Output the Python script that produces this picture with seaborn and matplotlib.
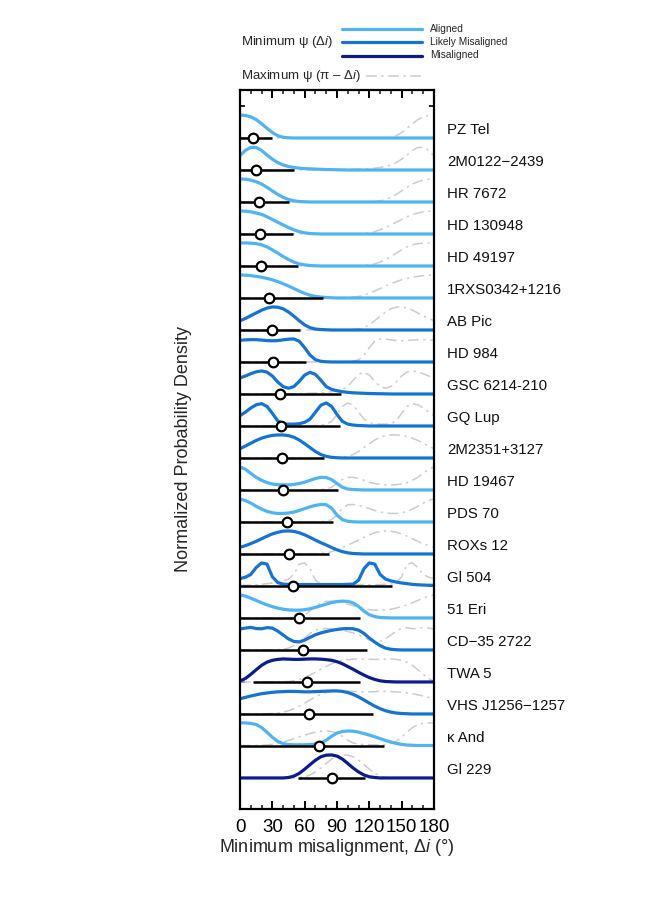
import numpy as np
import pandas as pd
import seaborn as sns
import matplotlib.pyplot as plt
from matplotlib.lines import Line2D
from matplotlib.transforms import blended_transform_factory

sns.set_theme(style="ticks")
plt.rcParams['font.family'] = ['Liberation Sans', 'DejaVu Sans']
plt.rcParams['mathtext.fontset'] = 'custom'
plt.rcParams['mathtext.rm'] = 'Liberation Sans'
plt.rcParams['mathtext.it'] = 'Liberation Sans:italic'

# grid of minimum misalignment (deg) the densities are read at
deg = list(range(0, 181, 5))

# objects, top to bottom
names = ["PZ Tel", "2M0122\u22122439", "HR 7672", "HD 130948", "HD 49197",
         "1RXS0342+1216", "AB Pic", "HD 984", "GSC 6214-210", "GQ Lup",
         "2M2351+3127", "HD 19467", "PDS 70", "ROXs 12", "Gl 504", "51 Eri",
         "CD\u221235 2722", "TWA 5", "VHS J1256\u22121257", "\u03ba And", "Gl 229"]
status = ["Aligned", "Aligned", "Aligned", "Aligned", "Aligned", "Aligned",
          "Likely Misaligned", "Likely Misaligned", "Likely Misaligned",
          "Likely Misaligned", "Likely Misaligned", "Aligned", "Aligned",
          "Likely Misaligned", "Likely Misaligned", "Aligned", "Likely Misaligned",
          "Misaligned", "Likely Misaligned", "Aligned", "Misaligned"]

# median and interval of delta i (deg)
med = [12, 15, 17.5, 18.5, 19.5, 27, 30, 31, 37, 38, 39, 40, 43.5, 45.5, 49, 55, 58, 62, 64, 73, 85]
lo = [0, 0, 0, 0, 0, 0, 0, 0, 0, 0, 0, 0, 0, 0, 0, 0, 0, 12, 0, 0, 54]
hi = [30, 50, 45, 49, 54, 77, 56, 61, 94, 93, 78, 91, 86, 83, 141, 111, 118, 111, 123, 134, 116]

# normalized densities at deg grid
pz_tel = [1.0, 0.98, 0.92, 0.8, 0.62, 0.42, 0.24, 0.1, 0.03, 0.01, 0, 0, 0, 0, 0, 0, 0, 0, 0,
          0, 0, 0, 0, 0, 0, 0, 0, 0, 0, 0, 0, 0, 0, 0, 0, 0, 0]
m0122 = [0.62, 0.85, 0.98, 0.98, 0.85, 0.65, 0.47, 0.32, 0.22, 0.15, 0.11, 0.08, 0.06, 0.05,
         0.04, 0.03, 0.02, 0.015, 0.01, 0.005, 0, 0, 0, 0, 0, 0, 0, 0, 0, 0, 0, 0, 0, 0, 0, 0, 0]
hr7672 = [1.0, 0.99, 0.95, 0.88, 0.78, 0.64, 0.48, 0.33, 0.2, 0.11, 0.05, 0.02, 0.01, 0, 0, 0,
          0, 0, 0, 0, 0, 0, 0, 0, 0, 0, 0, 0, 0, 0, 0, 0, 0, 0, 0, 0, 0]
hd130948 = [1.0, 0.99, 0.96, 0.91, 0.85, 0.75, 0.63, 0.51, 0.39, 0.28, 0.18, 0.1, 0.05, 0.02,
            0.01, 0, 0, 0, 0, 0, 0, 0, 0, 0, 0, 0, 0, 0, 0, 0, 0, 0, 0, 0, 0, 0, 0]
hd49197 = [1.0, 1.0, 0.99, 0.97, 0.92, 0.83, 0.7, 0.56, 0.41, 0.28, 0.17, 0.09, 0.05, 0.02,
           0.01, 0, 0, 0, 0, 0, 0, 0, 0, 0, 0, 0, 0, 0, 0, 0, 0, 0, 0, 0, 0, 0, 0]
rxs0342 = [1.0, 0.99, 0.97, 0.94, 0.9, 0.85, 0.79, 0.71, 0.62, 0.52, 0.41, 0.3, 0.2, 0.12, 0.07,
           0.04, 0.02, 0.01, 0, 0, 0, 0, 0, 0, 0, 0, 0, 0, 0, 0, 0, 0, 0, 0, 0, 0, 0]
ab_pic = [0.4, 0.5, 0.62, 0.74, 0.86, 0.95, 1.0, 0.99, 0.92, 0.78, 0.6, 0.4, 0.22, 0.1, 0.04,
          0.02, 0.01, 0, 0, 0, 0, 0, 0, 0, 0, 0, 0, 0, 0, 0, 0, 0, 0, 0, 0, 0, 0]
hd984 = [0.94, 0.96, 0.97, 0.97, 0.95, 0.93, 0.92, 0.93, 0.96, 0.99, 1.0, 0.9, 0.62, 0.3, 0.1,
         0.03, 0.01, 0, 0, 0, 0, 0, 0, 0, 0, 0, 0, 0, 0, 0, 0, 0, 0, 0, 0, 0, 0]
gsc6214 = [0.7, 0.78, 0.88, 0.96, 1.0, 0.95, 0.78, 0.52, 0.32, 0.25, 0.32, 0.55, 0.82, 0.94,
           0.85, 0.6, 0.32, 0.2, 0.14, 0.1, 0.07, 0.05, 0.04, 0.03, 0.02, 0.015, 0.01, 0.005,
           0, 0, 0, 0, 0, 0, 0, 0, 0]
gq_lup = [0.45, 0.6, 0.78, 0.92, 0.97, 0.85, 0.55, 0.22, 0.1, 0.08, 0.08, 0.1, 0.16, 0.3, 0.6,
          0.9, 1.0, 0.85, 0.5, 0.2, 0.08, 0.04, 0.02, 0.01, 0, 0, 0, 0, 0, 0, 0, 0, 0, 0, 0, 0, 0]
m2351 = [0.4, 0.52, 0.64, 0.76, 0.86, 0.93, 0.98, 1.0, 1.0, 0.97, 0.9, 0.78, 0.62, 0.45, 0.28,
         0.15, 0.07, 0.03, 0.01, 0, 0, 0, 0, 0, 0, 0, 0, 0, 0, 0, 0, 0, 0, 0, 0, 0, 0]
hd19467 = [1.0, 0.9, 0.72, 0.55, 0.42, 0.32, 0.26, 0.23, 0.22, 0.22, 0.24, 0.28, 0.34, 0.42,
           0.5, 0.55, 0.54, 0.45, 0.28, 0.12, 0.04, 0.02, 0.01, 0, 0, 0, 0, 0, 0, 0, 0, 0, 0,
           0, 0, 0, 0]
pds70 = [1.0, 0.93, 0.82, 0.68, 0.56, 0.46, 0.4, 0.37, 0.37, 0.39, 0.43, 0.5, 0.58, 0.66, 0.72,
         0.76, 0.75, 0.6, 0.3, 0.1, 0.03, 0.01, 0, 0, 0, 0, 0, 0, 0, 0, 0, 0, 0, 0, 0, 0, 0]
roxs12 = [0.29, 0.36, 0.45, 0.55, 0.66, 0.77, 0.87, 0.94, 0.99, 1.0, 0.98, 0.92, 0.83, 0.72,
          0.6, 0.49, 0.39, 0.28, 0.18, 0.1, 0.05, 0.02, 0.01, 0, 0, 0, 0, 0, 0, 0, 0, 0, 0, 0,
          0, 0, 0]
gl504 = [0.32, 0.38, 0.5, 0.8, 1.0, 0.95, 0.4, 0.15, 0.08, 0.07, 0.06, 0.06, 0.06, 0.06, 0.06,
         0.06, 0.06, 0.06, 0.06, 0.06, 0.07, 0.08, 0.25, 0.75, 1.0, 0.95, 0.5, 0.3, 0.22, 0.17,
         0.13, 0.1, 0.07, 0.05, 0.04, 0.03, 0.03]
eri51 = [1.0, 0.95, 0.86, 0.76, 0.66, 0.57, 0.49, 0.43, 0.38, 0.35, 0.34, 0.34, 0.36, 0.4, 0.46,
         0.53, 0.6, 0.67, 0.71, 0.73, 0.72, 0.65, 0.5, 0.3, 0.14, 0.06, 0.02, 0.01, 0, 0, 0, 0,
         0, 0, 0, 0, 0]
cd35 = [0.91, 0.95, 0.98, 0.93, 0.92, 0.97, 0.95, 0.82, 0.65, 0.48, 0.37, 0.35, 0.43, 0.55,
        0.66, 0.74, 0.8, 0.85, 0.89, 0.92, 0.93, 0.92, 0.86, 0.72, 0.52, 0.34, 0.19, 0.08, 0.03,
        0.01, 0, 0, 0, 0, 0, 0, 0]
twa5 = [0.04, 0.15, 0.33, 0.53, 0.72, 0.86, 0.94, 0.98, 1.0, 0.99, 0.98, 0.98, 0.99, 1.0, 1.0,
        0.99, 0.97, 0.94, 0.88, 0.79, 0.67, 0.55, 0.42, 0.3, 0.19, 0.11, 0.05, 0.02, 0.01, 0, 0,
        0, 0, 0, 0, 0, 0]
vhs1256 = [0.66, 0.72, 0.78, 0.83, 0.88, 0.91, 0.94, 0.96, 0.97, 0.98, 0.98, 0.97, 0.96, 0.96,
           0.97, 0.98, 0.99, 1.0, 1.0, 0.98, 0.93, 0.85, 0.74, 0.61, 0.47, 0.34, 0.23, 0.14,
           0.08, 0.04, 0.02, 0.01, 0, 0, 0, 0, 0]
kap_and = [1.0, 1.0, 0.98, 0.93, 0.8, 0.6, 0.38, 0.2, 0.1, 0.06, 0.05, 0.05, 0.05, 0.06, 0.08,
           0.13, 0.25, 0.42, 0.56, 0.63, 0.65, 0.64, 0.6, 0.54, 0.47, 0.4, 0.32, 0.24, 0.17,
           0.11, 0.07, 0.04, 0.03, 0.02, 0.02, 0.02, 0.02]
gl229 = [0, 0, 0, 0, 0, 0, 0, 0, 0, 0.02, 0.08, 0.2, 0.38, 0.58, 0.77, 0.92, 0.99, 1.0, 0.95,
         0.82, 0.63, 0.43, 0.26, 0.13, 0.05, 0.02, 0, 0, 0, 0, 0, 0, 0, 0, 0, 0, 0]

densities = [pz_tel, m0122, hr7672, hd130948, hd49197, rxs0342, ab_pic, hd984, gsc6214, gq_lup,
             m2351, hd19467, pds70, roxs12, gl504, eri51, cd35, twa5, vhs1256, kap_and, gl229]

colors = {"Aligned": "#4FB3F4", "Likely Misaligned": "#1573D6", "Misaligned": "#0C1C8E"}
gray = "#CCCCCC"
scale = 0.72

n = len(names)
base = [n - 1 - k for k in range(n)]

rows_min, rows_max = [], []
for k, name in enumerate(names):
    d = np.array(densities[k])
    # max psi = pi - delta i, i.e. the same density mirrored about 90 deg
    for x, v, vm in zip(deg, d, d[::-1]):
        rows_min.append({"name": name, "deg": x, "y": base[k] + scale * v})
        rows_max.append({"name": name, "deg": x, "y": base[k] + scale * vm})
df_min = pd.DataFrame(rows_min)
df_max = pd.DataFrame(rows_max)
palette = {nm: colors[st] for nm, st in zip(names, status)}

fig = plt.figure(figsize=(6.5, 9), dpi=100)
ax = fig.add_axes([240 / 650, 1 - 809 / 900, 194 / 650, 719 / 900])

sns.lineplot(data=df_max, x="deg", y="y", units="name", estimator=None, color=gray,
             lw=1.1, linestyle=(0, (7, 3, 1.5, 3)), sort=False, ax=ax, zorder=1)
sns.lineplot(data=df_min, x="deg", y="y", hue="name", palette=palette, estimator=None,
             lw=2.3, sort=False, legend=False, ax=ax, zorder=2)
ax.hlines(base, lo, hi, color="black", lw=1.8, zorder=3)
sns.scatterplot(x=med, y=base, color="white", edgecolor="black", s=48, linewidth=1.6,
                ax=ax, zorder=4)

trans = blended_transform_factory(ax.transAxes, ax.transData)
for k, name in enumerate(names):
    ax.text(1.067, base[k] + 0.26, name, transform=trans, ha="left", va="center",
            fontsize=10.8, color="#111111")

ax.set_xlim(0, 180)
ax.set_ylim(-0.97, 21.5)
ax.set_xticks(range(0, 181, 30))
ax.set_xticks(range(0, 181, 10), minor=True)
ax.set_yticks(range(0, 22))
ax.set_yticklabels([])
ax.tick_params(axis="x", which="major", direction="in", top=True, length=6, width=1.4,
               labelsize=13.5, pad=7, colors="black")
ax.tick_params(axis="x", which="minor", direction="in", top=True, length=3, width=1.2)
ax.tick_params(axis="y", direction="in", right=True, length=3.5, width=1.4)
for sp in ax.spines.values():
    sp.set_linewidth(1.6)
    sp.set_color("black")
    sp.set_visible(True)
ax.set_xlabel(r"Minimum misalignment, $\mathit{\Delta i}$ (°)", fontsize=13, labelpad=1)
ax.set_ylabel("Normalized Probability Density", fontsize=13, labelpad=31)

# legend drawn by hand at the top
fig.text(241 / 650, 1 - 42 / 900, r"Minimum ψ ($\mathit{\Delta i}$)", fontsize=9.5,
         ha="left", va="center")
fig.text(241 / 650, 1 - 76 / 900, r"Maximum ψ (π – $\mathit{\Delta i}$)", fontsize=9.5,
         ha="left", va="center")
for yy, st in zip([28.5, 42, 55.5], ["Aligned", "Likely Misaligned", "Misaligned"]):
    fig.add_artist(Line2D([342 / 650, 422 / 650], [1 - yy / 900] * 2, color=colors[st], lw=2.3,
                          transform=fig.transFigure))
    fig.text(430 / 650, 1 - yy / 900, st, fontsize=7.3, ha="left", va="center")
fig.add_artist(Line2D([366 / 650, 422 / 650], [1 - 76 / 900] * 2, color=gray, lw=1.1,
                      linestyle=(0, (7, 3, 1.5, 3)), transform=fig.transFigure))

fig.savefig("out.png", dpi=100)
